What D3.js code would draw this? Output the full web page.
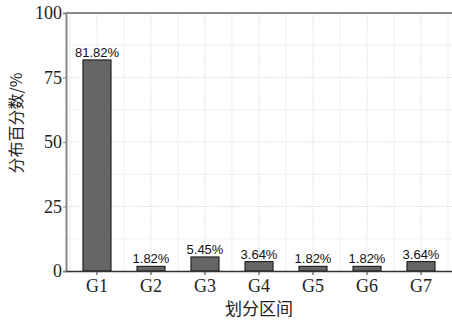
<!DOCTYPE html>
<html><head><meta charset="utf-8">
<script src="https://cdn.jsdelivr.net/npm/d3@7"></script>
<style>body{margin:0;background:#fff}</style>
</head><body>
<svg id="c" width="452" height="320"></svg>
<script>
const categories = ["G1","G2","G3","G4","G5","G6","G7"];
const values = [81.82, 1.82, 5.45, 3.64, 1.82, 1.82, 3.64];
const labels = ["81.82%","1.82%","5.45%","3.64%","1.82%","1.82%","3.64%"];
const yTicks = [0,25,50,75,100];
const xTitle = "划分区间";
const yTitle = "分布百分数/%";

const serif = "'Liberation Serif'";
const svg = d3.select("#c");
const L = 66, R = 452, T = 13, B = 271;
const x = d3.scaleBand().domain(categories).range([L, R]).paddingInner(0.48).paddingOuter(0.314);
const y = d3.scaleLinear().domain([0,100]).range([B, T]);
const step = x.step();

// minor grid
const minorY = d3.range(12.5, 100, 25);
svg.append("g").selectAll("line").data(minorY).join("line")
  .attr("x1", L).attr("x2", R).attr("y1", d=>y(d)).attr("y2", d=>y(d))
  .attr("stroke", "#f0f0f0").attr("stroke-width", 1);
const minorX = categories.map(c => x(c) + x.bandwidth()/2 - step/2).concat([x(categories[6]) + x.bandwidth()/2 + step/2]);
svg.append("g").selectAll("line").data(minorX).join("line")
  .attr("x1", d=>d).attr("x2", d=>d).attr("y1", T).attr("y2", B)
  .attr("stroke", "#f0f0f0").attr("stroke-width", 1);
// major grid
svg.append("g").selectAll("line").data(yTicks.slice(1,4)).join("line")
  .attr("x1", L).attr("x2", R).attr("y1", d=>y(d)).attr("y2", d=>y(d))
  .attr("stroke", "#dedede").attr("stroke-width", 1).attr("stroke-dasharray", "1.5,1");
svg.append("g").selectAll("line").data(categories).join("line")
  .attr("x1", d=>x(d)+x.bandwidth()/2).attr("x2", d=>x(d)+x.bandwidth()/2).attr("y1", T).attr("y2", B)
  .attr("stroke", "#dedede").attr("stroke-width", 1).attr("stroke-dasharray", "1.5,1");

// bars
svg.append("g").selectAll("rect").data(values).join("rect")
  .attr("x", (d,i)=>x(categories[i])).attr("width", x.bandwidth())
  .attr("y", d=>y(d)).attr("height", d=>B - y(d))
  .attr("fill", "#666").attr("stroke", "#111").attr("stroke-width", 1);

// value labels
svg.append("g").selectAll("text").data(values).join("text")
  .attr("x", (d,i)=>x(categories[i]) + x.bandwidth()/2).attr("y", d=>y(d) - 3)
  .attr("text-anchor", "middle").attr("font-family", "'Liberation Sans', Arial, sans-serif")
  .attr("font-size", 13).attr("fill", "#111").text((d,i)=>labels[i]);

// top border
svg.append("line").attr("x1", L).attr("x2", R).attr("y1", T).attr("y2", T)
  .attr("stroke", "#888").attr("stroke-width", 2);

// y axis
const ya = svg.append("g").attr("transform", `translate(${L},0)`)
  .call(d3.axisLeft(y).tickValues(yTicks).tickSize(3).tickPadding(1));
ya.attr("font-family", serif).attr("font-size", 18);
ya.select(".domain").attr("stroke", "#888").attr("stroke-width", 2);
ya.selectAll(".tick line").attr("stroke", "#888");
ya.selectAll("text").attr("font-family", serif).attr("font-size", 18).attr("fill", "#222");

// x axis
const xa = svg.append("g").attr("transform", `translate(0,${B})`)
  .call(d3.axisBottom(x).tickSize(4).tickPadding(4).tickSizeOuter(0));
xa.attr("font-family", serif).attr("font-size", 18);
xa.select(".domain").attr("stroke", "#333").attr("stroke-width", 1.5);
xa.selectAll(".tick line").attr("stroke", "#333");
xa.selectAll("text").attr("font-family", serif).attr("font-size", 18).attr("fill", "#222");

// titles
svg.append("text").attr("x", (L+R)/2).attr("y", 315).attr("text-anchor", "middle")
  .attr("font-family", "'Noto Sans CJK SC', sans-serif").attr("font-size", 17).attr("fill", "#222").text(xTitle);
svg.append("text").attr("transform", `translate(22,123) rotate(-90)`).attr("text-anchor", "middle")
  .attr("font-family", "'Noto Sans CJK SC', sans-serif").attr("font-size", 16).attr("fill", "#222").text(yTitle);
</script>
</body></html>
